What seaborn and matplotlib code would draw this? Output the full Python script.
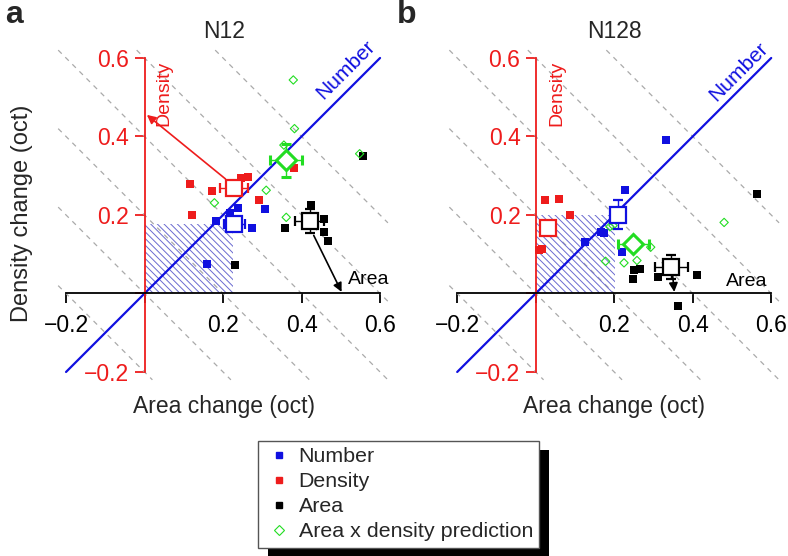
import numpy as np
import pandas as pd
import matplotlib
matplotlib.use("Agg")
import matplotlib.pyplot as plt
import seaborn as sns
from matplotlib.lines import Line2D
from matplotlib.patches import Rectangle

sns.set_style("white")
plt.rcParams["font.family"] = ["Liberation Sans", "DejaVu Sans"]
plt.rcParams["hatch.linewidth"] = 0.7

BLUE, RED, BLACK, GREEN = "#1010e0", "#ee1c1c", "black", "#22dd22"

# ---- panel a (N12) ----
a_number_x = [0.183, 0.217, 0.238, 0.273, 0.306, 0.160]
a_number_y = [0.184, 0.205, 0.217, 0.166, 0.214, 0.076]
a_density_x = [0.116, 0.172, 0.121, 0.246, 0.263, 0.291, 0.380]
a_density_y = [0.279, 0.261, 0.201, 0.293, 0.297, 0.239, 0.319]
a_area_x = [0.423, 0.457, 0.457, 0.467, 0.359, 0.230, 0.557]
a_area_y = [0.225, 0.189, 0.157, 0.133, 0.168, 0.072, 0.349]
a_pred_x = [0.379, 0.382, 0.355, 0.310, 0.178, 0.361, 0.548]
a_pred_y = [0.544, 0.420, 0.378, 0.263, 0.231, 0.194, 0.356]
# means: x, y, xerr, yerr
a_means = {"Number": (0.229, 0.178, 0.027, 0.012),
           "Density": (0.228, 0.269, 0.036, 0.012),
           "Area": (0.421, 0.184, 0.037, 0.030),
           "Pred": (0.361, 0.339, 0.041, 0.042)}
a_box = (0.225, 0.177)
a_arrows = [((0.206, 0.292), (0.006, 0.455), RED),
            ((0.431, 0.148), (0.502, 0.004), BLACK)]

# ---- panel b (N128) ----
b_number_x = [0.331, 0.228, 0.126, 0.166, 0.175, 0.220]
b_number_y = [0.392, 0.264, 0.132, 0.156, 0.154, 0.105]
b_density_x = [0.024, 0.059, 0.088, 0.008, 0.015]
b_density_y = [0.238, 0.240, 0.200, 0.111, 0.114]
b_area_x = [0.565, 0.250, 0.266, 0.247, 0.312, 0.412, 0.362]
b_area_y = [0.253, 0.059, 0.063, 0.036, 0.041, 0.046, -0.032]
b_pred_x = [0.480, 0.178, 0.225, 0.258, 0.293, 0.189, 0.197]
b_pred_y = [0.181, 0.082, 0.078, 0.084, 0.118, 0.170, 0.173]
b_means = {"Number": (0.209, 0.201, 0.010, 0.036),
           "Density": (0.031, 0.168, 0.008, 0.008),
           "Area": (0.345, 0.068, 0.042, 0.030),
           "Pred": (0.249, 0.127, 0.040, 0.012)}
b_box = (0.202, 0.200)
b_arrows = [((0.349, 0.045), (0.353, 0.004), BLACK)]

ticks = [-0.2, 0.0, 0.2, 0.4, 0.6]
tick_labels = ["\u22120.2", "", "0.2", "0.4", "0.6"]
iso_sums = [-0.2, 0.0, 0.2, 0.4, 0.6, 0.8]
colors = {"Number": BLUE, "Density": RED, "Area": BLACK, "Pred": GREEN}


def panel(ax, pts, means, box, arrows, text_pos):
    # iso-number dashed lines (x + y = const)
    lo, hi = -0.22, 0.62
    for s in iso_sums:
        x0, x1 = max(lo, s - hi), min(hi, s - lo)
        ax.plot([x0, x1], [s - x0, s - x1], ls=(0, (4, 4)), color="#aaaaaa", lw=0.9, zorder=1)
    # number diagonal
    ax.plot([-0.2, 0.6], [-0.2, 0.6], color=BLUE, lw=1.6, zorder=2)
    ax.add_patch(Rectangle((0, 0), box[0], box[1], facecolor="none", edgecolor="#6a6ad0",
                           lw=0, hatch="\\\\\\\\\\", zorder=1))

    df = pd.DataFrame(pts)
    for kind in ["Number", "Density", "Area"]:
        sns.scatterplot(data=df[df.kind == kind], x="x", y="y", marker="s", s=26,
                        color=colors[kind], linewidth=0, ax=ax, zorder=3)
    sns.scatterplot(data=df[df.kind == "Pred"], x="x", y="y", marker="D", s=18,
                    facecolor="none", edgecolor=GREEN, linewidth=0.8, ax=ax, zorder=3)

    for kind, (mx, my, ex, ey) in means.items():
        big = kind == "Pred"
        ax.errorbar(mx, my, xerr=ex, yerr=ey, fmt="D" if big else "s",
                    ms=10.5 if big else 12, mfc="white", mec=colors[kind],
                    mew=2.2 if big else 1.6, ecolor=colors[kind], elinewidth=1,
                    capsize=3.5, capthick=1, zorder=4)

    for (sx, sy), (ex_, ey_), c in arrows:
        ax.annotate("", xy=(ex_, ey_), xytext=(sx, sy),
                    arrowprops=dict(arrowstyle="-|>", color=c, lw=1.2,
                                    mutation_scale=13, shrinkA=0, shrinkB=0), zorder=5)

    (dx, dy), (nx, ny), (ax_, ay_) = text_pos
    ax.text(dx, dy, "Density", color=RED, rotation=90, fontsize=14, ha="center", va="center")
    ax.text(nx, ny, "Number", color=BLUE, rotation=45, fontsize=15, ha="center", va="center")
    ax.text(ax_, ay_, "Area", color=BLACK, fontsize=14, ha="center", va="center")

    ax.set_xlim(-0.25, 0.65)
    ax.set_ylim(-0.25, 0.65)
    ax.set_xlabel("")
    ax.set_ylabel("")
    for sp in ["top", "right"]:
        ax.spines[sp].set_visible(False)
    ax.spines["left"].set_position(("data", 0))
    ax.spines["bottom"].set_position(("data", 0))
    ax.spines["left"].set_bounds(-0.2, 0.6)
    ax.spines["bottom"].set_bounds(-0.2, 0.6)
    ax.spines["left"].set_color(RED)
    ax.spines["bottom"].set_color("black")
    ax.spines["left"].set_linewidth(1.3)
    ax.spines["bottom"].set_linewidth(1.3)
    ax.spines["left"].set_zorder(2.5)
    ax.set_xticks(ticks, tick_labels)
    ax.set_yticks(ticks, tick_labels)
    ax.tick_params(axis="x", direction="out", length=7, width=1.3, pad=8,
                   labelsize=16.5, colors="black", bottom=True)
    ax.tick_params(axis="y", direction="out", length=7, width=1.3, pad=4,
                   labelsize=16.5, colors=RED, left=True)
    ax.patch.set_alpha(0)


def rows(nx, ny, dx, dy, ax_, ay_, px, py):
    out = []
    for kind, xs, ys in [("Number", nx, ny), ("Density", dx, dy), ("Area", ax_, ay_), ("Pred", px, py)]:
        out += [{"kind": kind, "x": x, "y": y} for x, y in zip(xs, ys)]
    return out


fig = plt.figure(figsize=(7.88, 5.56), dpi=100)
ax_a = fig.add_axes([0.0589, 0.2957, 0.4483, 0.6353])
ax_b = fig.add_axes([0.5553, 0.2957, 0.4483, 0.6353])

panel(ax_a, rows(a_number_x, a_number_y, a_density_x, a_density_y, a_area_x, a_area_y, a_pred_x, a_pred_y),
      a_means, a_box, a_arrows, ((0.048, 0.51), (0.512, 0.57), (0.572, 0.036)))
panel(ax_b, rows(b_number_x, b_number_y, b_density_x, b_density_y, b_area_x, b_area_y, b_pred_x, b_pred_y),
      b_means, b_box, b_arrows, ((0.053, 0.51), (0.516, 0.565), (0.537, 0.031)))

W, H = 788, 556
fig.text(224 / W, 1 - 31 / H, "N12", fontsize=16.5, ha="center", va="center")
fig.text(614 / W, 1 - 31 / H, "N128", fontsize=16.5, ha="center", va="center")
fig.text(14 / W, 1 - 15 / H, "a", fontsize=23, fontweight="bold", ha="center", va="center")
fig.text(407 / W, 1 - 15 / H, "b", fontsize=23, fontweight="bold", ha="center", va="center")
fig.text(22 / W, 1 - 213 / H, "Density change (oct)", fontsize=17, rotation=90, ha="center", va="center")
fig.text(224 / W, 1 - 407 / H, "Area change (oct)", fontsize=16.5, ha="center", va="center")
fig.text(614 / W, 1 - 407 / H, "Area change (oct)", fontsize=16.5, ha="center", va="center")

handles = [Line2D([], [], ls="none", marker="s", ms=5, color=BLUE),
           Line2D([], [], ls="none", marker="s", ms=5, color=RED),
           Line2D([], [], ls="none", marker="s", ms=5, color=BLACK),
           Line2D([], [], ls="none", marker="D", ms=5, mfc="none", mec=GREEN, mew=0.8)]
leg = fig.legend(handles, ["Number", "Density", "Area", "Area x density prediction"],
                 loc="upper left", bbox_to_anchor=(258 / W, 1 - 441 / H), fontsize=15.4,
                 frameon=True, fancybox=False, edgecolor="#555555", framealpha=1,
                 borderpad=0.3, handlelength=1.4, handletextpad=0.2, labelspacing=0.28,
                 borderaxespad=0)
leg.get_frame().set_linewidth(1.0)

fig.canvas.draw()
bb = leg.get_window_extent().transformed(fig.transFigure.inverted())
shadow = Rectangle((bb.x0 + 10 / W, bb.y0 - 9 / H), bb.width, bb.height,
                   transform=fig.transFigure, facecolor="black", edgecolor="none", zorder=-1)
fig.patches.append(shadow)
leg.set_zorder(5)

fig.savefig("out.png", dpi=100)
